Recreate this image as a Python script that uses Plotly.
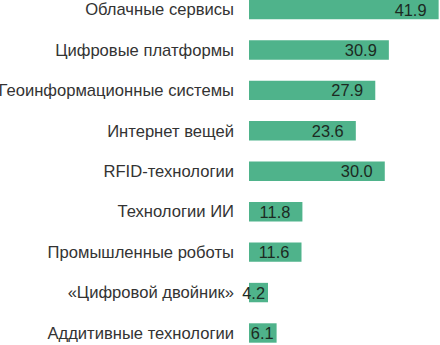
import plotly.graph_objects as go

categories = [
    "Облачные сервисы",
    "Цифровые платформы",
    "Геоинформационные системы",
    "Интернет вещей",
    "RFID-технологии",
    "Технологии ИИ",
    "Промышленные роботы",
    "«Цифровой двойник»",
    "Аддитивные технологии",
]
values = [41.9, 30.9, 27.9, 23.6, 30.0, 11.8, 11.6, 4.2, 6.1]

FONT = "Liberation Sans, Arial, sans-serif"

labels = [f"{v:.1f}\u00a0\u00a0" if v >= 10 else f"{v:.1f}" for v in values]

fig = go.Figure(
    go.Bar(
        x=values,
        y=categories,
        orientation="h",
        marker=dict(color="#4fb38b", line=dict(width=0)),
        text=labels,
        textposition="inside",
        insidetextanchor="end",
        textangle=0,
        textfont=dict(family=FONT, size=16.4, color="#1c2a22"),
        cliponaxis=False,
        hoverinfo="skip",
    )
)

fig.update_layout(
    width=440,
    height=345,
    margin=dict(l=249, r=0, t=0, b=0),
    paper_bgcolor="white",
    plot_bgcolor="white",
    bargap=0.52,
    showlegend=False,
    uniformtext=dict(minsize=16.4, mode="show"),
    font=dict(family=FONT, size=16.6, color="#333333"),
)
fig.update_xaxes(range=[0, 42.2], visible=False, showgrid=False, zeroline=False)
fig.update_yaxes(
    categoryorder="array",
    categoryarray=categories,
    range=[8.297, -0.235],
    showgrid=False,
    zeroline=False,
    showline=False,
    ticks="",
    ticklabelstandoff=14,
    tickfont=dict(size=16.6, color="#333333"),
)

fig.write_html(
    "out.html",
    config={"displayModeBar": False},
    post_script="document.body.style.margin='0';document.body.style.overflow='hidden';",
)
